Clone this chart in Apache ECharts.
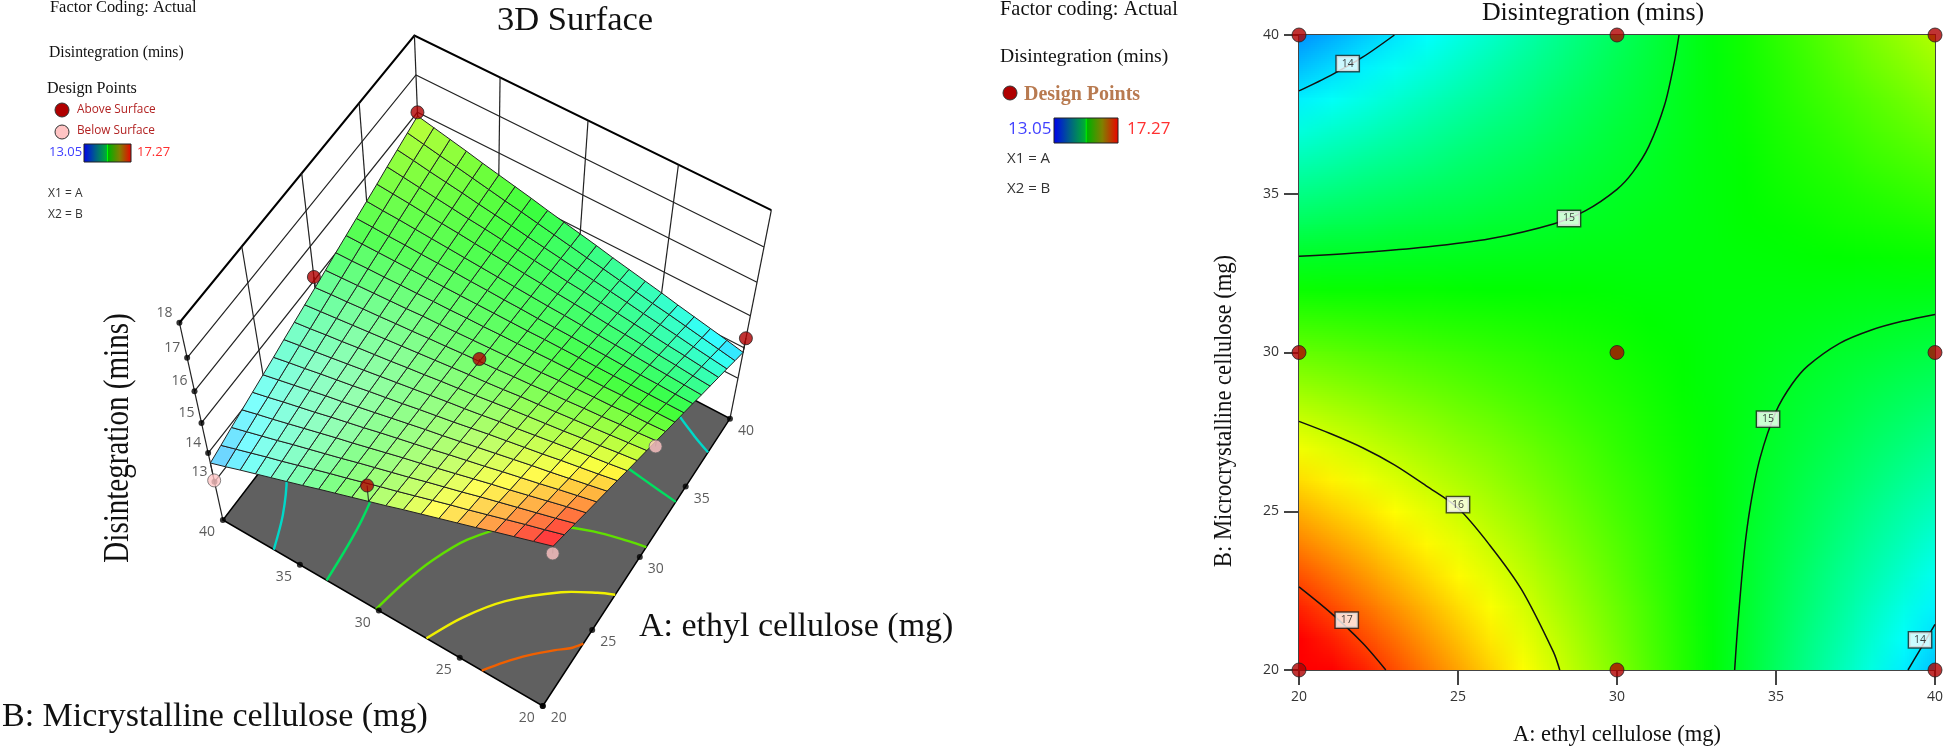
<!DOCTYPE html>
<html><head><meta charset="utf-8">
<script src="https://cdn.jsdelivr.net/npm/echarts@6/dist/echarts.min.js"></script>
<style>html,body{margin:0;padding:0;background:#fff}#c{width:1946px;height:754px}</style>
</head><body><div id="c"></div>
<script>
const gridA=[20,21,22,23,24,25,26,27,28,29,30,31,32,33,34,35,36,37,38,39,40];
const gridB=[20,21,22,23,24,25,26,27,28,29,30,31,32,33,34,35,36,37,38,39,40];
const surfaceZ=[
[17.50,17.32,17.14,16.95,16.77,16.59,16.41,16.22,16.04,15.86,15.68,15.49,15.31,15.13,14.95,14.76,14.58,14.40,14.22,14.03,13.85],
[17.31,17.14,16.97,16.81,16.64,16.47,16.30,16.13,15.97,15.80,15.63,15.46,15.30,15.13,14.96,14.79,14.62,14.46,14.29,14.12,13.96],
[17.12,16.97,16.81,16.66,16.51,16.35,16.20,16.05,15.89,15.74,15.59,15.44,15.28,15.13,14.98,14.82,14.67,14.52,14.36,14.21,14.06],
[16.93,16.79,16.65,16.51,16.37,16.23,16.10,15.96,15.82,15.68,15.54,15.40,15.27,15.13,14.99,14.85,14.71,14.57,14.44,14.30,14.16],
[16.73,16.61,16.49,16.36,16.24,16.12,15.99,15.87,15.74,15.62,15.50,15.38,15.25,15.13,15.00,14.88,14.76,14.63,14.51,14.39,14.26],
[16.54,16.43,16.33,16.22,16.11,16.00,15.89,15.78,15.67,15.56,15.45,15.35,15.24,15.13,15.02,14.91,14.80,14.69,14.58,14.47,14.37],
[16.35,16.26,16.16,16.07,15.97,15.88,15.79,15.69,15.60,15.50,15.41,15.32,15.22,15.13,15.03,14.94,14.84,14.75,14.66,14.56,14.47],
[16.16,16.08,16.00,15.92,15.84,15.76,15.69,15.61,15.53,15.45,15.36,15.28,15.21,15.13,15.05,14.97,14.89,14.81,14.73,14.65,14.57],
[15.97,15.90,15.84,15.77,15.71,15.64,15.58,15.51,15.45,15.38,15.32,15.25,15.19,15.13,15.06,15.00,14.93,14.87,14.80,14.74,14.67],
[15.77,15.72,15.67,15.62,15.57,15.52,15.47,15.42,15.37,15.32,15.27,15.22,15.17,15.12,15.07,15.02,14.97,14.92,14.87,14.82,14.78],
[15.58,15.55,15.51,15.48,15.44,15.41,15.37,15.34,15.30,15.27,15.23,15.19,15.16,15.12,15.09,15.05,15.02,14.98,14.95,14.91,14.88],
[15.39,15.37,15.35,15.33,15.31,15.29,15.27,15.25,15.23,15.21,15.19,15.16,15.14,15.12,15.10,15.08,15.06,15.04,15.02,15.00,14.98],
[15.20,15.19,15.19,15.18,15.18,15.17,15.16,15.16,15.15,15.15,15.14,15.13,15.13,15.12,15.12,15.11,15.11,15.10,15.09,15.09,15.08],
[15.01,15.02,15.02,15.03,15.04,15.05,15.06,15.07,15.08,15.09,15.10,15.10,15.11,15.12,15.13,15.14,15.15,15.16,15.17,15.18,15.19],
[14.81,14.84,14.86,14.89,14.91,14.93,14.96,14.98,15.00,15.03,15.05,15.08,15.10,15.12,15.15,15.17,15.19,15.22,15.24,15.26,15.29],
[14.62,14.66,14.70,14.74,14.78,14.81,14.85,14.89,14.93,14.97,15.01,15.04,15.08,15.12,15.16,15.20,15.24,15.27,15.31,15.35,15.39],
[14.43,14.48,14.54,14.59,14.64,14.70,14.75,14.80,14.86,14.91,14.96,15.01,15.07,15.12,15.17,15.23,15.28,15.33,15.39,15.44,15.49],
[14.24,14.31,14.37,14.44,14.51,14.58,14.65,14.71,14.78,14.85,14.92,14.98,15.05,15.12,15.19,15.26,15.32,15.39,15.46,15.53,15.60],
[14.05,14.13,14.21,14.29,14.38,14.46,14.54,14.62,14.71,14.79,14.87,14.95,15.04,15.12,15.20,15.29,15.37,15.45,15.53,15.61,15.70],
[13.85,13.95,14.05,14.15,14.24,14.34,14.44,14.54,14.63,14.73,14.83,14.92,15.02,15.12,15.22,15.31,15.41,15.51,15.61,15.70,15.80],
[13.66,13.77,13.89,14.00,14.11,14.22,14.33,14.45,14.56,14.67,14.78,14.89,15.01,15.12,15.23,15.34,15.45,15.57,15.68,15.79,15.90]
];
const contour14TopLeft=[[20,38.24],[21,38.73],[22,39.3],[23,40]];
const contour14BottomRight=[[39.15,20],[39.5,20.59],[40,21.44]];
const contour15Upper=[[20,33.03],[22,33.15],[24,33.32],[26,33.58],[28,34.05],[29,34.46],[30,35.14],[30.5,35.68],[31,36.49],[31.5,37.81],[31.8,39.13],[31.95,40]];
const contour15Lower=[[33.7,20],[33.8,21.43],[34,23.71],[34.2,25.2],[34.5,26.68],[35,28.14],[35.5,29],[36,29.58],[37,30.29],[38,30.71],[39,30.99],[40,31.2]];
const contour16=[[20,27.83],[21,27.44],[22,27],[23,26.46],[24,25.8],[25,25.1],[26,23.93],[27,22.53],[28,20.57],[28.2,20]];
const contour17=[[20,22.62],[21,21.8],[22,20.85],[22.73,20]];
const contourLabels=[[21.53,39.1,'14'],[28.49,34.22,'15'],[34.75,27.9,'15'],[25,25.21,'16'],[21.5,21.57,'17'],[39.53,20.95,'14']];
const floorContours=[
 {color:'#00d8c8',pts:[[20,36.68],[22,37.46],[24,38.58],[25.7,40]]},
 {color:'#00d8c8',pts:[[40,24.37],[39,23.02],[38,21.13],[37.5,20]]},
 {color:'#00e060',pts:[[20,33.29],[24,33.69],[28,34.72],[30,36.26],[31,38.1],[31.5,40]]},
 {color:'#00e060',pts:[[40,30.7],[38,30.03],[36,28.43],[35,26.4],[34.5,24.36],[34.2,22.3],[33.9,20]]},
 {color:'#60e000',pts:[[20,30.17],[22,29.77],[24,29.18],[26,28.27],[28,26.64],[29,25.21],[30,22.85],[30.5,20.97],[30.7,20]]},
 {color:'#f0f000',pts:[[20,27.04],[22,26.08],[24,24.68],[26,22.48],[27,20.84],[27.4,20]]},
 {color:'#f06000',pts:[[20,23.66],[21,22.93],[22,22.08],[23,21.05],[23.5,20.45],[24.1,20]]}
];
const designPoints2D=[[20,20],[20,30],[20,40],[30,20],[30,30],[30,40],[40,20],[40,30],[40,40]];
const designPoints3D=[[40,40,16.0,1],[30,40,15.1,1],[40,20,14.3,1],[30,30,15.3,1],[20,30,16.1,1],[20,40,13.05,0],[30,20,15.5,0],[20,20,17.27,0]];
const tickA=[20,25,30,35,40];
const tickB=[20,25,30,35,40];
const tickZ=[13,14,15,16,17,18];
const floorZ=11.6;

// projective camera of the 3D panel (maps A,B,Z onto the hidden screen-plane axes)
const camera=[123.56063,-156.88147,-11.61828,479.38832,-129.93195,-81.02963,-40.78348,368.65259,0.03880,0.02619,-0.02424];
function project(A,B,Z){const a=(A-30)/10,b=(B-30)/10,t=Z-15,m=camera,w=m[8]*a+m[9]*b+m[10]*t+1;
 return [(m[0]*a+m[1]*b+m[2]*t+m[3])/w,(m[4]*a+m[5]*b+m[6]*t+m[7])/w];}

const colorStops=[[13.05,0,0,255],[14.105,0,255,255],[15.16,0,255,0],[16.215,255,255,0],[17.27,255,0,0]];
function heat(z){z=Math.max(13.05,Math.min(17.27,z));for(let i=1;i<colorStops.length;i++){if(z<=colorStops[i][0]){const s=colorStops[i-1],e=colorStops[i],t=(z-s[0])/(e[0]-s[0]);return [1,2,3].map(k=>s[k]+(e[k]-s[k])*t);}}return colorStops[4].slice(1);}
function shade(z,dzA,dzB){const c=heat(z);const d=(dzA-0.3)*(dzA-0.3)+(dzB+1.2)*(dzB+1.2);const m=0.2+0.38*Math.exp(-d/2);return 'rgb('+c.map(v=>Math.round(v*(1-m)+255*m)).join(',')+')';}

const heatCanvas=document.createElement('canvas');heatCanvas.width=gridA.length;heatCanvas.height=gridB.length;
(function(){const g=heatCanvas.getContext('2d');const d=g.createImageData(21,21);for(let r=0;r<21;r++)for(let c=0;c<21;c++){const v=heat(surfaceZ[20-r][c]);const o=(r*21+c)*4;d.data[o]=v[0];d.data[o+1]=v[1];d.data[o+2]=v[2];d.data[o+3]=255;}g.putImageData(d,0,0);})();

const cageLines=[];
tickZ.forEach(z=>{cageLines.push({p:[[20,40,z],[40,40,z],[40,20,z]],w:z===18?2:1.2,c:z===18?'#000':'#222'});});
[25,30,35].forEach(v=>{cageLines.push({p:[[v,40,18],[v,40,floorZ]],w:1.2,c:'#222'});cageLines.push({p:[[40,v,18],[40,v,floorZ]],w:1.2,c:'#222'});});
cageLines.push({p:[[20,40,18],[20,40,floorZ]],w:1.2,c:'#222'});
cageLines.push({p:[[40,40,18],[40,40,floorZ]],w:1.2,c:'#222'});
cageLines.push({p:[[40,20,18],[40,20,floorZ]],w:1.2,c:'#222'});

const cells=[];for(let j=0;j<20;j++)for(let i=0;i<20;i++)cells.push([i,j]);

const serif='"Liberation Serif","Times New Roman",serif', sans='"Open Sans","Noto Sans",sans-serif';
function T(text,x,y,size,fill,family,extra){extra=extra||{};const el={type:'text',x:x,y:y,silent:true,z:50,style:{text:text,fill:fill||'#111',font:(extra.weight||'')+' '+size+'px '+(family||serif),textAlign:extra.align||'left',textVerticalAlign:'middle'}};if(extra.rotation)el.rotation=extra.rotation;if(extra.scaleX)el.scaleX=extra.scaleX;return el;}
function dot(x,y,fill){return {type:'circle',silent:true,z:50,shape:{cx:x,cy:y,r:7},style:{fill:fill,stroke:'#333',lineWidth:1}};}
const barStops=[{offset:0,color:'#0000ee'},{offset:.25,color:'#006088'},{offset:.49,color:'#00b030'},{offset:.5,color:'#00ff00'},{offset:.52,color:'#00b000'},{offset:.75,color:'#808000'},{offset:1,color:'#ee0000'}];
function bar(x,y,w,h){return {type:'rect',silent:true,z:50,shape:{x:x,y:y,width:w,height:h},style:{fill:new echarts.graphic.LinearGradient(0,0,1,0,barStops),stroke:'#222',lineWidth:1}};}
const graphicEls=[
 T('Factor Coding: Actual',50,8,16.4),T('Disintegration (mins)',49,53,15.7),T('Design Points',47,89,16.1),
 dot(62,110,'#b00000'),T('Above Surface',77,110,11.8,'#b22222',sans),
 dot(62,132,'#ffc4c4'),T('Below Surface',77,131,11.8,'#b22222',sans),
 T('13.05',49,152,13,'#4040ff',sans),bar(84,144,47,18),T('17.27',137,152,13,'#ff3030',sans),
 T('X1 = A',48,194,12,'#333',sans),T('X2 = B',48,215,12,'#333',sans),
 T('3D Surface',575,21,34.5,'#111',serif,{align:'center'}),
 T('Disintegration (mins)',119,438,35,'#111',serif,{align:'center',rotation:Math.PI/2,scaleX:0.83}),
 T('A: ethyl cellulose (mg)',639,627,34),T('B: Micrystalline cellulose (mg)',2,717,34),
 T('Factor coding: Actual',1000,10,20.4),T('Disintegration (mins)',1000,57,19.6),
 dot(1010,93,'#b00000'),T('Design Points',1024,95,20,'#b87a50',serif,{weight:'bold'}),
 T('13.05',1008,129,17,'#4040ff',sans),bar(1054,118,64,25),T('17.27',1127,129,17,'#ff3030',sans),
 T('X1 = A',1007,159,15,'#333',sans),T('X2 = B',1007,189,15,'#333',sans),
 T('Disintegration (mins)',1593,13,25.9,'#111',serif,{align:'center'}),
 T('B: Microcrystalline cellulose (mg)',1224,411,25,'#111',serif,{align:'center',rotation:Math.PI/2,scaleX:0.905})
];
const line=(p,style)=>({type:'polyline',shape:{points:p},style:Object.assign({fill:null},style)});
function custom(data,z,fn,xi,extra){return Object.assign({type:'custom',xAxisIndex:xi||0,yAxisIndex:xi||0,z:z,silent:true,clip:false,animation:false,data:data,renderItem:fn},extra||{});}
const redPoints=designPoints3D.filter(d=>d[3]);
const series=[
 custom(cageLines.map((_,i)=>[i,0]),1,(p,api)=>{const l=cageLines[p.dataIndex];return line(l.p.map(q=>api.coord(project(q[0],q[1],q[2]))),{stroke:l.c,lineWidth:l.w});}),
 custom([[0,0]],2,(p,api)=>({type:'polygon',shape:{points:[[20,20],[40,20],[40,40],[20,40]].map(q=>api.coord(project(q[0],q[1],floorZ)))},style:{fill:'#606060',stroke:'#000',lineWidth:1.5}})),
 custom(floorContours.map((_,i)=>[i,0]),3,(p,api)=>{const l=floorContours[p.dataIndex];return {type:'polyline',shape:{points:l.pts.map(q=>api.coord(project(q[0],q[1],floorZ))),smooth:0.3},style:{fill:null,stroke:l.color,lineWidth:2.4}};}),
 custom(designPoints3D.map((_,i)=>[i,0]),4,(p,api)=>{const d=designPoints3D[p.dataIndex];const i=gridA.indexOf(d[0]),j=gridB.indexOf(d[1]);return line([api.coord(project(d[0],d[1],d[2])),api.coord(project(d[0],d[1],surfaceZ[j][i]))],{stroke:'#222',lineWidth:1});}),
 custom(cells,5,(p,api)=>{const i=api.value(0),j=api.value(1);
   const pts=[[i,j],[i+1,j],[i+1,j+1],[i,j+1]].map(q=>api.coord(project(gridA[q[0]],gridB[q[1]],surfaceZ[q[1]][q[0]])));
   const z=(surfaceZ[j][i]+surfaceZ[j][i+1]+surfaceZ[j+1][i]+surfaceZ[j+1][i+1])/4;
   const dzA=(surfaceZ[j][i+1]+surfaceZ[j+1][i+1]-surfaceZ[j][i]-surfaceZ[j+1][i])/2*10;
   const dzB=(surfaceZ[j+1][i]+surfaceZ[j+1][i+1]-surfaceZ[j][i]-surfaceZ[j][i+1])/2*10;
   return {type:'polygon',shape:{points:pts},style:{fill:shade(z,dzA,dzB),stroke:'#222',lineWidth:1}};}),
 custom(redPoints.map((_,i)=>[i,0]),6,(p,api)=>{const d=redPoints[p.dataIndex];const i=gridA.indexOf(d[0]),j=gridB.indexOf(d[1]);return line([api.coord(project(d[0],d[1],d[2])),api.coord(project(d[0],d[1],surfaceZ[j][i]))],{stroke:'#222',lineWidth:1});}),
 {type:'scatter',xAxisIndex:0,yAxisIndex:0,z:8,silent:true,clip:false,animation:false,symbolSize:13,data:designPoints3D.map(d=>({value:project(d[0],d[1],d[2]),itemStyle:{color:d[3]?'#b00000':'#ffc4c4',borderColor:d[3]?'#222':'#666',borderWidth:1}}))},
 {type:'scatter',xAxisIndex:0,yAxisIndex:0,z:7,silent:true,clip:false,animation:false,symbolSize:6,itemStyle:{color:'#000'},
  data:tickA.map(v=>({value:project(v,20,floorZ),label:{show:true,formatter:''+v,position:'right',distance:3,offset:[2,12],color:'#333',fontFamily:sans,fontSize:14}}))
   .concat(tickB.map(v=>({value:project(20,v,floorZ),label:{show:true,formatter:''+v,position:'left',distance:3,offset:[-2,12],color:'#333',fontFamily:sans,fontSize:14}})))
   .concat(tickZ.map(v=>({value:project(20,40,v),label:{show:true,formatter:''+v,position:'left',distance:3,offset:[-1,-10],color:'#333',fontFamily:sans,fontSize:14}})))},
 custom([[20,20]],1,(p,api)=>{const a=api.coord([19.5,40.5]),b=api.coord([40.5,19.5]);return {type:'image',style:{image:heatCanvas,x:a[0],y:a[1],width:b[0]-a[0],height:b[1]-a[1]}};},1,{clip:true}),
].concat([contour14TopLeft,contour14BottomRight,contour15Upper,contour15Lower,contour16,contour17].map(c=>({type:'line',xAxisIndex:1,yAxisIndex:1,z:3,silent:true,animation:false,symbol:'none',smooth:0.3,data:c,lineStyle:{color:'#111',width:1.5}})))
.concat([
 {type:'scatter',xAxisIndex:1,yAxisIndex:1,z:5,silent:true,animation:false,symbolSize:1,itemStyle:{color:'#000'},data:contourLabels.map(c=>({value:[c[0],c[1]],label:{show:true,formatter:c[2],position:'inside',color:'#111',fontFamily:sans,fontSize:10.5,backgroundColor:'#fff',borderColor:'#222',borderWidth:1.4,padding:[2,5]}}))},
 {type:'scatter',xAxisIndex:1,yAxisIndex:1,z:6,silent:true,clip:false,animation:false,symbolSize:14,itemStyle:{color:'#b00000',borderColor:'#222',borderWidth:1},data:designPoints2D}
]);
const axisBase={type:'value',min:20,max:40,interval:5,splitLine:{show:false},axisLine:{show:true,onZero:false,lineStyle:{color:'#444',width:2}},axisTick:{show:true,length:15,lineStyle:{color:'#444',width:2}},axisLabel:{color:'#333',fontFamily:sans,fontSize:14}};
const chart=echarts.init(document.getElementById('c'),null,{renderer:'canvas'});
chart.setOption({animation:false,backgroundColor:'#fff',
 grid:[{left:0,top:0,width:1946,height:754,show:false},{left:1299,top:35,width:636,height:635,show:true,borderColor:'#444',borderWidth:2,backgroundColor:'transparent'}],
 xAxis:[{type:'value',gridIndex:0,min:0,max:1946,show:false},Object.assign({gridIndex:1,name:'A: ethyl cellulose (mg)',nameLocation:'middle',nameGap:54,nameTextStyle:{fontFamily:serif,fontSize:22.5,color:'#111'}},axisBase,{axisLabel:Object.assign({},axisBase.axisLabel,{margin:20})})],
 yAxis:[{type:'value',gridIndex:0,min:0,max:754,inverse:true,show:false},Object.assign({gridIndex:1},axisBase,{axisLabel:Object.assign({},axisBase.axisLabel,{margin:20})})],
 graphic:{elements:graphicEls},
 series:series});
</script></body></html>
